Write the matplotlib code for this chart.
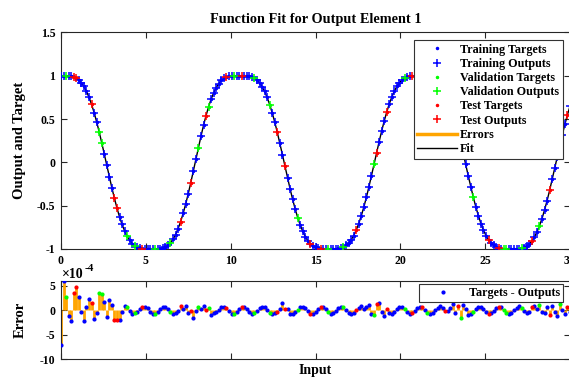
import numpy as np
import matplotlib
matplotlib.use("Agg")
import matplotlib.pyplot as plt
from matplotlib.lines import Line2D

plt.rcParams["font.family"] = ["Liberation Serif", "DejaVu Serif"]
plt.rcParams["font.weight"] = "bold"
plt.rcParams["axes.unicode_minus"] = False

# Input grid
inputs = np.linspace(0.0, 30.0, 201)

# Target values
targets = [
    1.000, 1.000, 1.000, 0.998, 0.994, 0.986, 0.972, 0.951, 0.920, 0.877,
    0.821, 0.753, 0.671, 0.576, 0.469, 0.353, 0.228, 0.097, -0.035, -0.167,
    -0.295, -0.416, -0.528, -0.629, -0.717, -0.791, -0.852, -0.901, -0.937, -0.963,
    -0.981, -0.991, -0.997, -0.999, -1.000, -1.000, -1.000, -1.000, -0.999, -0.996,
    -0.989, -0.977, -0.958, -0.928, -0.888, -0.835, -0.766, -0.684, -0.588, -0.480,
    -0.361, -0.233, -0.099, 0.037, 0.172, 0.303, 0.427, 0.541, 0.643, 0.731,
    0.804, 0.864, 0.911, 0.946, 0.970, 0.985, 0.993, 0.998, 1.000, 1.000,
    1.000, 1.000, 1.000, 0.998, 0.994, 0.986, 0.972, 0.950, 0.919, 0.875,
    0.819, 0.750, 0.667, 0.571, 0.464, 0.346, 0.220, 0.089, -0.044, -0.176,
    -0.304, -0.425, -0.537, -0.637, -0.724, -0.797, -0.857, -0.905, -0.940, -0.966,
    -0.982, -0.992, -0.997, -0.999, -1.000, -1.000, -1.000, -1.000, -0.999, -0.996,
    -0.990, -0.978, -0.959, -0.932, -0.894, -0.845, -0.782, -0.706, -0.616, -0.515,
    -0.402, -0.281, -0.153, -0.022, 0.110, 0.239, 0.362, 0.478, 0.583, 0.676,
    0.757, 0.825, 0.879, 0.921, 0.952, 0.973, 0.986, 0.994, 0.998, 1.000,
    1.000, 1.000, 1.000, 1.000, 0.998, 0.994, 0.986, 0.973, 0.952, 0.922,
    0.880, 0.825, 0.757, 0.677, 0.583, 0.478, 0.363, 0.239, 0.110, -0.022,
    -0.153, -0.280, -0.402, -0.514, -0.616, -0.706, -0.782, -0.845, -0.894, -0.932,
    -0.959, -0.978, -0.990, -0.996, -0.999, -1.000, -1.000, -1.000, -1.000, -0.999,
    -0.997, -0.992, -0.983, -0.967, -0.943, -0.908, -0.862, -0.804, -0.732, -0.648,
    -0.550, -0.441, -0.322, -0.196, -0.066, 0.065, 0.196, 0.322, 0.440, 0.550,
    0.647,
]

# Targets - Outputs, in units of 1e-4
errors_e4 = [
    -7.1, 5.9, 2.7, -1.2, -2.3, 3.5, 4.8, 2.8, -0.3, -2.3,
    0.7, 2.4, 1.5, -1.7, -0.6, 3.6, 3.3, 1.6, -1.4, 2.2,
    1.0, -2.1, -1.9, -2.0, -0.3, 0.9, 0.6, -0.1, -0.7, -0.6,
    -0.4, 0.2, 0.6, 0.7, 0.4, -0.3, -0.7, -0.7, -0.3, 0.3,
    0.7, 0.7, 0.2, -0.4, -0.7, -0.6, -0.2, 0.9, 0.3, 0.9,
    -0.5, -0.2, -1.6, -0.2, 0.7, 0.2, 0.9, 0.1, 0.5, -0.9,
    -0.5, -0.4, 0.1, 0.6, 0.7, 0.4, -0.2, -0.7, -0.7, -0.3,
    0.3, 0.7, 0.7, 0.2, -0.4, -0.7, -0.6, -0.2, 0.4, 0.7,
    0.6, 0.1, -0.5, -0.8, -0.6, -0.3, 0.3, 1.4, 0.2, 0.3,
    -0.8, -0.7, -0.4, 0.1, 0.6, 0.7, 0.4, -0.2, -0.7, -0.7,
    -0.3, 0.3, 0.7, 0.7, 0.2, -0.4, -0.7, -0.6, -0.2, 0.4,
    0.7, 0.6, 0.1, -0.5, -0.8, -0.6, 0.0, 0.5, 0.8, 0.2,
    0.6, 1.0, -0.7, -1.0, 1.2, 1.5, -0.4, -1.2, 0.2, -0.5,
    -0.7, -0.3, 0.3, 0.7, 0.7, 0.2, -0.4, -0.7, -0.6, -0.2,
    0.4, 0.7, 0.6, 0.1, -0.5, -0.8, -0.6, 0.0, 0.5, 0.8,
    0.5, -0.1, -0.2, 0.4, 1.3, -0.5, 0.9, -1.5, 1.0, 0.3,
    -0.9, -0.7, -0.3, 0.3, 0.7, 0.7, 0.2, -0.4, -0.7, -0.6,
    -0.2, 0.4, 0.7, 0.6, 0.1, -0.5, -0.8, -0.6, 0.0, 0.5,
    0.8, 0.5, -0.1, -0.6, -0.3, 0.6, 0.9, 0.2, 1.0, -0.4,
    -0.6, 0.7, -1.0, 0.9, -0.3, -1.2, 1.2, 0.1, -0.8, 0.6,
    -0.4,
]

# Data division: t = training, v = validation, s = test
division = (
    "ttvttssttt" "ttsttvvttt" "tsstttvttv" "ttsttttvtt" "tttvtttstt"
    "tsttvttsvt" "tttttsttvt" "tsttttvttt" "ttvttsttst" "tttvttttst"
    "ttsttvtttt" "tvttttsttt" "tttvstttst" "tttttvttst" "ttstvttttt"
    "tsttttsvtt" "ttvtttttst" "ttstvvtttt" "tvtttsttvt" "ttstttvtts"
    "t"
)

assert len(targets) == len(errors_e4) == len(division) == len(inputs)

targets = np.array(targets)
errors_e4 = np.array(errors_e4)
outputs = targets - errors_e4 * 1e-4
groups = np.array(list(division))

set_names = [("t", "Training", "#0000ff"),
             ("v", "Validation", "#00ff00"),
             ("s", "Test", "#ff0000")]
err_color = "#ffa500"

fig = plt.figure(figsize=(5.69, 3.81), dpi=100)
ax1 = fig.add_axes([61 / 569, 1 - 249 / 381, 509 / 569, 216.5 / 381])
ax2 = fig.add_axes([61 / 569, 1 - 359 / 381, 509 / 569, 78 / 381])

# Upper panel: targets, outputs, errors and fit
handles = []
for key, name, col in set_names:
    m = groups == key
    h_t, = ax1.plot(inputs[m], targets[m], ".", color=col, markersize=3,
                    label=f"{name} Targets", zorder=3)
    h_o, = ax1.plot(inputs[m], outputs[m], "+", color=col, markersize=6,
                    markeredgewidth=1.1, label=f"{name} Outputs", zorder=4)
    handles += [h_t, h_o]
ax1.vlines(inputs, targets, outputs, color=err_color, linewidth=2, zorder=2)
h_err = Line2D([], [], color=err_color, linewidth=2.5, label="Errors")
h_fit, = ax1.plot(inputs, outputs, "-", color="black", linewidth=1,
                  label="Fit", zorder=2.5)
handles += [h_err, h_fit]

ax1.set_xlim(0, 30)
ax1.set_ylim(-1, 1.5)
ax1.set_xticks([0, 5, 10, 15, 20, 25, 30])
ax1.set_yticks([-1, -0.5, 0, 0.5, 1, 1.5])
ax1.set_yticklabels(["-1", "-0.5", "0", "0.5", "1", "1.5"])
ax1.set_title("Function Fit for Output Element 1", fontsize=10.3,
              fontweight="bold", pad=7)
ax1.set_ylabel("Output and Target", fontsize=10.5, fontweight="bold")
ax1.yaxis.set_label_coords(-0.068, 0.5)
leg1 = ax1.legend(handles=handles, loc="upper right",
                  bbox_to_anchor=(0.986, 0.965), fontsize=8.7,
                  frameon=True, fancybox=False, framealpha=1,
                  edgecolor="#333333", labelspacing=0.18,
                  handlelength=3.3, handletextpad=0.25, borderpad=0.3,
                  borderaxespad=0)
leg1.get_frame().set_linewidth(0.8)
leg1.set_zorder(10)

# Lower panel: error bars and Targets - Outputs
ax2.vlines(inputs, 0, errors_e4, color=err_color, linewidth=2, zorder=2)
h_diff = None
for key, name, col in set_names:
    m = groups == key
    h, = ax2.plot(inputs[m], errors_e4[m], ".", color=col, markersize=4,
                  zorder=3)
    if h_diff is None:
        h_diff = h
ax2.set_xlim(0, 30)
ax2.set_ylim(-10, 6)
ax2.set_xticks([0, 5, 10, 15, 20, 25, 30])
ax2.set_xticklabels([])
ax2.set_yticks([-10, -5, 0, 5])
ax2.set_yticklabels(["-10", "-5", "0", "5"])
ax2.set_ylabel("Error", fontsize=10.5, fontweight="bold")
ax2.yaxis.set_label_coords(-0.068, 0.5)
ax2.set_xlabel("Input", fontsize=10, fontweight="bold")
ax2.xaxis.set_label_coords(0.5, -0.06)
ax2.xaxis.label.set_va("top")
ax2.text(0.002, 1.0, "\u00d710", transform=ax2.transAxes, fontsize=10,
         fontweight="bold", ha="left", va="bottom")
ax2.text(0.047, 1.1, "-4", transform=ax2.transAxes, fontsize=8,
         fontweight="bold", ha="left", va="bottom")
leg2 = ax2.legend([h_diff], ["Targets - Outputs"], loc="upper right",
                  bbox_to_anchor=(0.986, 0.96), fontsize=8.7,
                  frameon=True, fancybox=False, framealpha=1,
                  edgecolor="#333333", handlelength=3.6,
                  handletextpad=0.3, borderpad=0.25, borderaxespad=0,
                  markerscale=1.0)
leg2.get_frame().set_linewidth(0.8)

for ax in (ax1, ax2):
    ax.tick_params(direction="in", top=True, right=True, length=4,
                   width=0.8, labelsize=8.5, pad=4, colors="#262626",
                   labelcolor="black")
    for sp in ax.spines.values():
        sp.set_linewidth(0.8)
        sp.set_color("#262626")
    for lbl in ax.get_xticklabels() + ax.get_yticklabels():
        lbl.set_fontweight("bold")

fig.savefig("out.png", dpi=100)
